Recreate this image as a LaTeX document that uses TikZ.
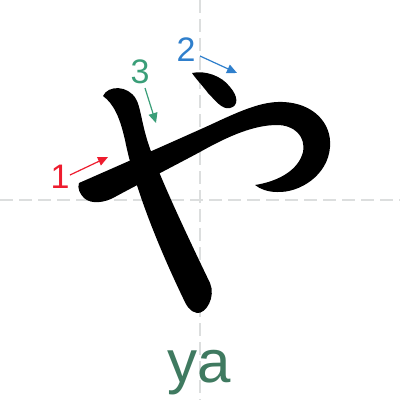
\documentclass[tikz,border=0pt]{standalone}
\usepackage{fontspec}
\setmainfont{Liberation Sans}
\usetikzlibrary{arrows.meta}
\definecolor{guide}{HTML}{DCDEDE}
\definecolor{redc}{HTML}{EE1C2E}
\definecolor{bluec}{HTML}{2F7FCC}
\definecolor{greenc}{HTML}{3A9E78}
\definecolor{yac}{HTML}{3F7A60}
\tikzset{
  guideline/.style={draw=guide, line width=2.5pt, dash pattern=on 13pt off 6pt},
  glyph/.style={fill=black, draw=none},
  numlabel/.style={font=\fontsize{34}{34}\selectfont, inner sep=0pt},
  orderarrow/.style={line width=1.2pt, -{Triangle[length=10pt,width=9pt]}},
}
\begin{document}
\begin{tikzpicture}[x=1pt,y=-1pt]
\useasboundingbox (0,0) rectangle (400,400);
\fill[white] (0,0) rectangle (400,400);
% guides
\coordinate (vt) at (200,0); \coordinate (vb) at (200,400);
\coordinate (hl) at (0,200); \coordinate (hr) at (400,200);
\draw[guideline] (vt) -- (vb);
\draw[guideline] (hl) -- (hr);
% stroke 3 (long diagonal)
\path[glyph] (103,96) .. controls (108,85) and (128,85) .. (136,99)
  .. controls (140,106) and (141,118) .. (146,136)
  .. controls (152,158) and (170,200) .. (210,283)
  .. controls (216,297) and (206,314) .. (197,313)
  .. controls (190,312) and (186,305) .. (183,298)
  .. controls (160,250) and (135,190) .. (125,140)
  .. controls (120,118) and (114,104) .. (103,96) -- cycle;
% stroke 1 (horizontal with hook)
\path[glyph] (79,183) .. controls (120,165) and (170,143) .. (210,125)
  .. controls (240,111) and (262,101) .. (283,102)
  .. controls (312,103) and (332,122) .. (330,147)
  .. controls (328,175) and (300,193) .. (277,192)
  .. controls (268,192) and (260,189) .. (255,185)
  .. controls (275,182) and (298,172) .. (303,152)
  .. controls (306,136) and (294,125) .. (277,125)
  .. controls (255,125) and (230,135) .. (200,152)
  .. controls (170,168) and (135,186) .. (113,198)
  .. controls (105,202) and (92,205) .. (84,198)
  .. controls (80,194) and (77,188) .. (79,183) -- cycle;
% stroke 2 (dot)
\path[glyph] (192,73) .. controls (205,70) and (222,76) .. (230,87)
  .. controls (238,96) and (239,106) .. (230,108)
  .. controls (222,110) and (215,100) .. (208,93)
  .. controls (202,85) and (196,79) .. (192,73) -- cycle;
% labels
\node[numlabel, text=redc] (n1) at (60,177) {1};
\node[numlabel, text=bluec] (n2) at (186,50) {2};
\node[numlabel, text=greenc] (n3) at (140,72) {3};
\coordinate (e1) at (108,157);
\coordinate (e2) at (237,73);
\coordinate (e3) at (156,123);
\coordinate (s1) at (70,175);
\coordinate (s2) at (200,56);
\coordinate (s3) at (145,88);
\draw[orderarrow, redc] (s1) -- (e1);
\draw[orderarrow, bluec] (s2) -- (e2);
\draw[orderarrow, greenc] (s3) -- (e3);
\node[anchor=base, text=yac, font=\fontsize{60}{60}\selectfont, inner sep=0pt] (ya) at (199,382) {ya};
\end{tikzpicture}
\end{document}
